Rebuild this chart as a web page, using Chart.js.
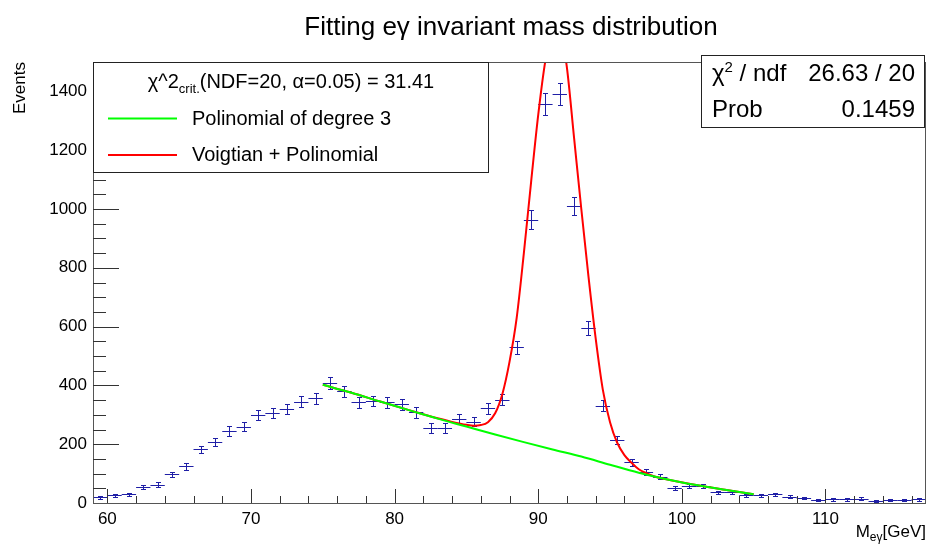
<!DOCTYPE html>
<html lang="en">
<head>
    <meta charset="UTF-8">
    <title>Fitting eγ invariant mass distribution</title>
    <script src="https://cdn.jsdelivr.net/npm/chart.js@4.4.1/dist/chart.umd.min.js"></script>
    <style>
        body { margin: 0; background: #fff; }
        #wrap { width: 928px; height: 546px; }
    </style>
</head>
<body>
<div id="wrap"><canvas id="chart" width="928" height="546"></canvas></div>
<script>
    // histogram: bin centres (GeV), counts and errors
    const binWidth = 1;
    const binCenters = [59.5, 60.5, 61.5, 62.5, 63.5, 64.5, 65.5, 66.5, 67.5, 68.5,
        69.5, 70.5, 71.5, 72.5, 73.5, 74.5, 75.5, 76.5, 77.5, 78.5,
        79.5, 80.5, 81.5, 82.5, 83.5, 84.5, 85.5, 86.5, 87.5, 88.5,
        89.5, 90.5, 91.5, 92.5, 93.5, 94.5, 95.5, 96.5, 97.5, 98.5,
        99.5, 100.5, 101.5, 102.5, 103.5, 104.5, 105.5, 106.5, 107.5, 108.5,
        109.5, 110.5, 111.5, 112.5, 113.5, 114.5, 115.5, 116.5];
    const events = [19, 26, 29, 54, 62, 97, 125, 182, 207, 245,
        260, 299, 306, 319, 345, 356, 408, 380, 342, 347,
        342, 336, 308, 255, 255, 285, 277, 322, 351, 529,
        964, 1357, 1390, 1010, 595, 331, 214, 138, 104, 90,
        51, 58, 58, 36, 38, 27, 27, 29, 21, 16,
        10, 12, 12, 15, 7, 10, 10, 12];
    const eventErrors = [4.4, 5.1, 5.4, 7.3, 7.9, 9.8, 11.2, 13.5, 14.4, 15.7,
        16.1, 17.3, 17.5, 17.9, 18.6, 18.9, 20.2, 19.5, 18.5, 18.6,
        18.5, 18.3, 17.5, 16.0, 16.0, 16.9, 16.6, 17.9, 18.7, 23.0,
        31.0, 36.8, 37.3, 31.8, 24.4, 18.2, 14.6, 11.7, 10.2, 9.5,
        7.1, 7.6, 7.6, 6.0, 6.2, 5.2, 5.2, 5.4, 4.6, 4.0,
        3.2, 3.5, 3.5, 3.9, 2.6, 3.2, 3.2, 3.5];

    // fit curves
    const polyX = [75, 77, 79, 81, 83, 85, 87, 89, 91, 93, 95, 97, 99, 101, 103, 105];
    const polyY = [402, 375, 345, 316, 287, 260, 233, 207, 182, 158, 130, 103, 80, 61, 45, 30];
    const voigtX = [75, 77, 79, 81, 83, 84, 85, 85.5, 86, 86.5, 87, 87.5, 88, 88.5, 89, 89.5,
        90, 90.5, 91, 91.3, 91.6, 92, 92.5, 93, 93.5, 94, 94.5, 95, 95.5, 96, 96.5,
        97, 97.5, 98, 99, 101, 103, 105];
    const voigtY = [402, 375, 345, 316, 288, 276, 266, 263, 265, 275, 305, 370, 480, 630, 850, 1090,
        1320, 1505, 1610, 1625, 1595, 1480, 1240, 1000, 770, 560, 385, 275, 205, 163, 137,
        115, 102, 92, 80, 61, 45, 30];

    const xMin = 59, xMax = 117;
    const yMin = 0, yMax = 1500;
    const xTickLabels = [60, 70, 80, 90, 100, 110];
    const yTickLabels = [0, 200, 400, 600, 800, 1000, 1200, 1400];

    const FONT = "'Liberation Sans', Arial, Helvetica, sans-serif";
    const pointColor = '#1f1fa6';

    function font(size) { return size + 'px ' + FONT; }

    // draw pieces of text one after another: [text, size, dy]
    function pieceWidth(ctx, pieces) {
        let w = 0;
        pieces.forEach(p => { ctx.font = font(p[1]); w += ctx.measureText(p[0]).width; });
        return w;
    }
    function drawPieces(ctx, pieces, x, y) {
        pieces.forEach(p => {
            ctx.font = font(p[1]);
            ctx.fillText(p[0], x, y + (p[2] || 0));
            x += ctx.measureText(p[0]).width;
        });
    }

    const errorBars = {
        id: 'errorBars',
        beforeDatasetsDraw(chart) {
            const { ctx, chartArea, scales: { x, y } } = chart;
            ctx.save();
            ctx.beginPath();
            ctx.rect(chartArea.left, chartArea.top, chartArea.right - chartArea.left, chartArea.bottom - chartArea.top);
            ctx.clip();
            ctx.strokeStyle = pointColor;
            ctx.lineWidth = 1;
            binCenters.forEach((c, i) => {
                const px = Math.round(x.getPixelForValue(c)) + 0.5;
                const py = Math.round(y.getPixelForValue(events[i])) + 0.5;
                const xl = x.getPixelForValue(c - binWidth / 2);
                const xr = x.getPixelForValue(c + binWidth / 2);
                const yt = Math.round(y.getPixelForValue(events[i] + eventErrors[i])) + 0.5;
                const yb = Math.round(y.getPixelForValue(events[i] - eventErrors[i])) + 0.5;
                ctx.beginPath();
                ctx.moveTo(xl, py); ctx.lineTo(xr, py);
                ctx.moveTo(px, yt); ctx.lineTo(px, yb);
                ctx.moveTo(px - 2.5, yt); ctx.lineTo(px + 2.5, yt);
                ctx.moveTo(px - 2.5, yb); ctx.lineTo(px + 2.5, yb);
                ctx.stroke();
            });
            ctx.restore();
        }
    };

    const decorations = {
        id: 'decorations',
        afterDraw(chart) {
            const { ctx, chartArea: a, scales: { x, y } } = chart;
            ctx.save();

            // frame
            ctx.strokeStyle = '#555';
            ctx.lineWidth = 1;
            ctx.strokeRect(Math.round(a.left) + 0.5, Math.round(a.top) + 0.5,
                Math.round(a.right - a.left) - 1, Math.round(a.bottom - a.top));

            // x ticks: major every 10, minor every 2
            ctx.strokeStyle = '#333';
            ctx.beginPath();
            for (let v = 60; v <= 116; v += 2) {
                const px = Math.round(x.getPixelForValue(v)) + 0.5;
                const len = v % 10 === 0 ? 14 : 7;
                ctx.moveTo(px, a.bottom); ctx.lineTo(px, a.bottom - len);
            }
            // y ticks: major every 200, minor every 50
            for (let v = 50; v <= 1500; v += 50) {
                const py = Math.round(y.getPixelForValue(v)) + 0.5;
                const len = v % 200 === 0 ? 26 : 13;
                ctx.moveTo(a.left, py); ctx.lineTo(a.left + len, py);
            }
            ctx.stroke();

            ctx.fillStyle = '#000';
            ctx.textBaseline = 'alphabetic';

            // title
            ctx.font = font(26);
            ctx.textAlign = 'center';
            ctx.fillText('Fitting eγ invariant mass distribution', 511, 35);

            // axis titles
            ctx.textAlign = 'left';
            const xt = [['M', 17], ['eγ', 12, 4], ['[GeV]', 17]];
            drawPieces(ctx, xt, 926 - pieceWidth(ctx, xt), 537);

            ctx.save();
            ctx.translate(25, 62);
            ctx.rotate(-Math.PI / 2);
            ctx.textAlign = 'right';
            ctx.font = font(17);
            ctx.fillText('Events', 0, 0);
            ctx.restore();

            // legend box
            ctx.fillStyle = '#fff';
            ctx.strokeStyle = '#222';
            ctx.fillRect(93.5, 62.5, 395, 110);
            ctx.strokeRect(93.5, 62.5, 395, 110);
            ctx.fillStyle = '#000';
            ctx.textAlign = 'left';
            const head = [['χ^2', 20], ['crit.', 13, 5], ['(NDF=20, α=0.05) = 31.41', 20]];
            drawPieces(ctx, head, 291 - pieceWidth(ctx, head) / 2, 88);
            ctx.lineWidth = 2;
            ctx.strokeStyle = '#00ff00';
            ctx.beginPath(); ctx.moveTo(108, 118.5); ctx.lineTo(177, 118.5); ctx.stroke();
            ctx.strokeStyle = '#ff0000';
            ctx.beginPath(); ctx.moveTo(108, 155); ctx.lineTo(177, 155); ctx.stroke();
            ctx.font = font(20);
            ctx.fillText('Polinomial of degree 3', 192, 125);
            ctx.fillText('Voigtian + Polinomial', 192, 161);

            // stats box
            ctx.lineWidth = 1;
            ctx.fillStyle = '#fff';
            ctx.strokeStyle = '#222';
            ctx.fillRect(701.5, 55.5, 223, 72);
            ctx.strokeRect(701.5, 55.5, 223, 72);
            ctx.fillStyle = '#000';
            drawPieces(ctx, [['χ', 24], ['2', 15, -9], [' / ndf', 24]], 712, 81);
            ctx.font = font(24);
            ctx.fillText('Prob', 712, 117);
            ctx.textAlign = 'right';
            ctx.fillText('26.63 / 20', 915, 81);
            ctx.fillText('0.1459', 915, 117);

            ctx.restore();
        }
    };

    const ctx = document.getElementById('chart').getContext('2d');
    const myChart = new Chart(ctx, {
        type: 'scatter',
        data: {
            datasets: [{
                label: 'Polinomial of degree 3',
                data: polyX.map((v, i) => ({ x: v, y: polyY[i] })),
                showLine: true,
                borderColor: '#00ff00',
                borderWidth: 2,
                pointRadius: 0,
                cubicInterpolationMode: 'monotone',
                order: 0
            }, {
                label: 'Voigtian + Polinomial',
                data: voigtX.map((v, i) => ({ x: v, y: voigtY[i] })),
                showLine: true,
                borderColor: '#ff0000',
                borderWidth: 2,
                pointRadius: 0,
                cubicInterpolationMode: 'monotone',
                order: 1
            }, {
                label: 'Events',
                data: binCenters.map((v, i) => ({ x: v, y: events[i] })),
                pointRadius: 0,
                order: 2
            }]
        },
        options: {
            responsive: false,
            animation: false,
            devicePixelRatio: 1,
            layout: { padding: { top: 62, right: 2, left: 0, bottom: 0 } },
            plugins: { legend: { display: false }, tooltip: { enabled: false } },
            scales: {
                x: {
                    type: 'linear',
                    min: xMin,
                    max: xMax,
                    afterBuildTicks: s => { s.ticks = xTickLabels.map(v => ({ value: v })); },
                    afterFit: s => { s.height = 43; },
                    grid: { display: false, drawTicks: false },
                    border: { display: false },
                    ticks: {
                        font: { family: FONT, size: 17 }, color: '#000', padding: 6,
                        maxRotation: 0, autoSkip: false, callback: v => String(v)
                    }
                },
                y: {
                    type: 'linear',
                    min: yMin,
                    max: yMax,
                    afterBuildTicks: s => { s.ticks = yTickLabels.map(v => ({ value: v })); },
                    afterFit: s => { s.width = 93; },
                    grid: { display: false, drawTicks: false },
                    border: { display: false },
                    ticks: {
                        font: { family: FONT, size: 17 }, color: '#000', padding: 6,
                        autoSkip: false, callback: v => String(v)
                    }
                }
            }
        },
        plugins: [errorBars, decorations]
    });
</script>
</body>
</html>
